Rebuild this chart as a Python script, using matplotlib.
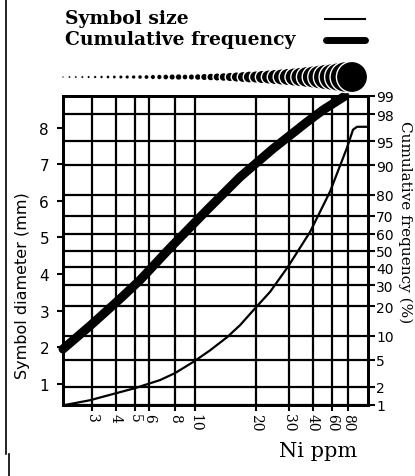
import numpy as np
import matplotlib.pyplot as plt
from matplotlib.lines import Line2D
from statistics import NormalDist

# размер значка (мм) в зависимости от содержания Ni (ppm)
size_ppm = [2.2, 2.93, 5.0, 6.78, 8.0, 9.78, 11.86, 14.4, 16.7, 19.3, 23.8, 29.6,
            38.6, 57.5, 78.6, 87.6, 94.2, 113]
size_mm = [0.43, 0.56, 0.89, 1.11, 1.30, 1.60, 1.92, 2.28, 2.61, 3.00, 3.52, 4.20,
           5.15, 6.25, 7.45, 7.94, 8.02, 8.02]

# накопленная частота (%)
cum_ppm = [2.15, 2.93, 4.19, 5.34, 7.57, 11.46, 16.7, 24.6, 37.2, 49.5, 75.8]
cum_pct = [6.9, 12.8, 23.3, 32.8, 51.5, 72.9, 86.6, 93.7, 97.35, 98.28, 99.0]

# шкала значков над графиком (диаметры, мм)
row_mm = [0.43, 0.51, 0.54, 0.56, 0.59, 0.63, 0.68, 0.73, 0.78, 0.85, 0.89, 0.93, 1.0,
          1.05, 1.12, 1.17, 1.26, 1.37, 1.47, 1.57, 1.66, 1.77, 1.90, 2.01, 2.14, 2.27,
          2.47, 2.66, 2.85, 3.09, 3.18, 3.46, 3.66, 3.93, 4.19, 4.45, 4.72, 5.04, 5.45,
          5.78, 6.2, 6.65, 7.0, 7.47, 7.95, 8.0]

x_ticks = [3, 4, 5, 6, 8, 10, 20, 30, 40, 60, 80]
p_ticks = [1, 2, 5, 10, 20, 30, 40, 50, 60, 70, 80, 90, 95, 98, 99]
mm_ticks = [1, 2, 3, 4, 5, 6, 7, 8]

# неравномерная логарифмическая ось (как на бланке)
KLOG = np.log10([2.15, 3, 4, 5, 6, 8, 10, 20, 30, 40, 60, 80, 115])
KPOS = [63, 92, 116, 135, 149, 175, 195, 256, 289, 313, 332, 348, 368]

def fwd(x):
    x = np.clip(np.asarray(x, dtype=float), 1e-3, None)
    return np.interp(np.log10(x), KLOG, KPOS)

def inv(p):
    return 10 ** np.interp(p, KPOS, KLOG)

nd = NormalDist()
def probit(p):
    return [nd.inv_cdf(v / 100) for v in p]

W, H = 415, 477
fig = plt.figure(figsize=(W / 100, H / 100), dpi=100)

def fx(px):
    return px / W
def fy(py):
    return 1 - py / H

ax = fig.add_axes([fx(63), fy(406), (368 - 63) / W, (406 - 97) / H])
ax.set_xscale('function', functions=(fwd, inv))
ax.set_xlim(2.15, 115)
ax.set_ylim(0.43, 8.86)

ax.plot(size_ppm, size_mm, color='k', lw=1.6, zorder=3)

ax.set_xticks(x_ticks)
ax.set_xticklabels([str(v) for v in x_ticks], rotation=270, fontsize=10,
                   family='DejaVu Serif')
ax.xaxis.set_minor_locator(plt.NullLocator())
ax.set_yticks(mm_ticks)
ax.set_yticklabels([str(v) for v in mm_ticks], fontsize=11, family='DejaVu Sans')
ax.tick_params(axis='x', direction='out', length=4, width=1.5, pad=2)
ax.tick_params(axis='y', direction='out', length=4, width=1.5, pad=6)
ax.grid(axis='x', color='k', lw=1.6)

ax2 = ax.twinx()
ax2.set_ylim(nd.inv_cdf(0.01), nd.inv_cdf(0.99))
ax2.plot(cum_ppm, probit(cum_pct), color='k', lw=6.5, solid_capstyle='round',
         clip_on=False, zorder=4)
ax2.set_yticks(probit(p_ticks))
ax2.set_yticklabels([str(v) for v in p_ticks], fontsize=10, family='DejaVu Sans')
ax2.yaxis.set_minor_locator(plt.NullLocator())
ax2.tick_params(axis='y', direction='out', length=5, width=1.5, pad=1)
ax2.grid(axis='y', color='k', lw=1.6)

for a in (ax, ax2):
    for s in a.spines.values():
        s.set_linewidth(2)

# ряд значков
axr = fig.add_axes([fx(63), fy(95), (352 - 63) / W, 34 / H])
axr.axis('off')
axr.set_xlim(0, len(row_mm) - 1)
axr.set_ylim(-1, 1)
d_px = np.array(row_mm) * 3.9
edge = np.where(d_px < 6, 0.2, 1.0)
axr.scatter(np.arange(len(row_mm)), np.zeros(len(row_mm)), s=(d_px * 0.72) ** 2,
            c='k', edgecolors='w', linewidths=edge, clip_on=False)

# легенда
fig.text(fx(65), fy(19), 'Symbol size', fontsize=13.5, weight='bold',
         family='DejaVu Serif', va='center')
fig.text(fx(65), fy(40), 'Cumulative frequency', fontsize=13.5, weight='bold',
         family='DejaVu Serif', va='center')
fig.add_artist(Line2D([fx(325), fx(365)], [fy(20), fy(20)], color='k', lw=1.5))
fig.add_artist(Line2D([fx(326), fx(365)], [fy(41), fy(41)], color='k', lw=5,
                      solid_capstyle='round'))

fig.text(fx(22), fy(286), 'Symbol diameter (mm)', rotation=90, fontsize=11.5,
         family='DejaVu Sans', ha='center', va='center')
fig.text(fx(405), fy(222), 'Cumulative frequency (%)', rotation=270, fontsize=11,
         family='DejaVu Serif', ha='center', va='center')
fig.text(fx(318), fy(452), 'Ni ppm', fontsize=15, family='DejaVu Serif',
         ha='center', va='center')

# рамка слева
fig.add_artist(Line2D([fx(6), fx(6)], [fy(0), fy(455)], color='k', lw=1.2))
fig.add_artist(Line2D([fx(9), fx(9)], [fy(455), fy(477)], color='k', lw=1.2))

fig.savefig('out.png', dpi=100)
